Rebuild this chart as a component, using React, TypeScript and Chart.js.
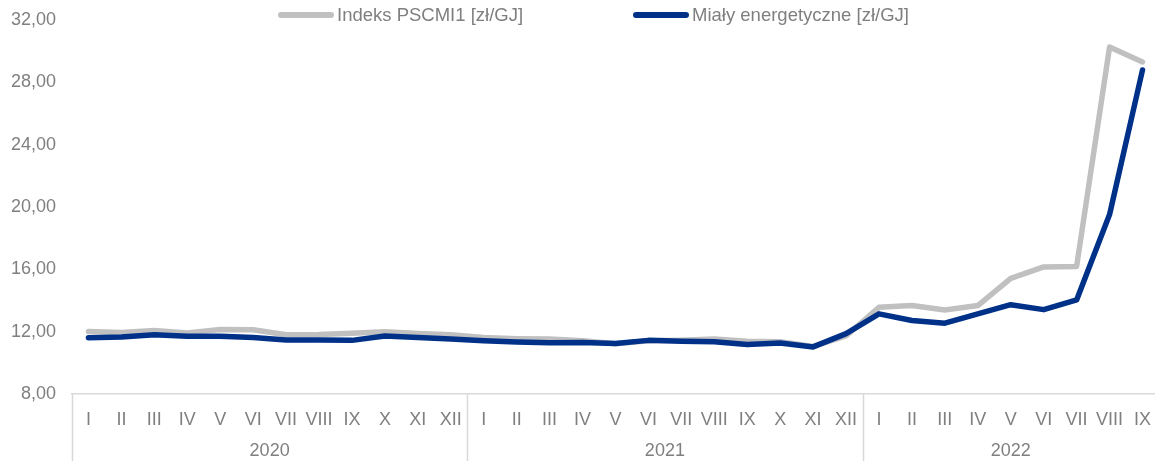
import React, { useEffect, useRef } from "react";
import { Chart, registerables } from "chart.js";

Chart.register(...registerables);

const months: string[] = [
  "I", "II", "III", "IV", "V", "VI", "VII", "VIII", "IX", "X", "XI", "XII",
  "I", "II", "III", "IV", "V", "VI", "VII", "VIII", "IX", "X", "XI", "XII",
  "I", "II", "III", "IV", "V", "VI", "VII", "VIII", "IX",
];

const years: string[] = ["2020", "2021", "2022"];
const yearMonthCounts: number[] = [12, 12, 9];

const pscmi1: number[] = [
  12.01, 11.95, 12.08, 11.92, 12.14, 12.12, 11.8, 11.82, 11.9, 11.99, 11.88, 11.8,
  11.62, 11.55, 11.52, 11.42, 11.22, 11.42, 11.45, 11.52, 11.38, 11.35, 11.05, 11.72,
  13.56, 13.67, 13.39, 13.67, 15.41, 16.15, 16.18, 30.25, 29.3,
];

const mialy: number[] = [
  11.61, 11.66, 11.8, 11.7, 11.7, 11.63, 11.46, 11.46, 11.44, 11.72, 11.62, 11.53,
  11.42, 11.33, 11.28, 11.31, 11.24, 11.44, 11.38, 11.35, 11.18, 11.27, 11.02, 11.87,
  13.14, 12.71, 12.54, 13.14, 13.73, 13.41, 14.03, 19.51, 28.78,
];

const seriesNames: string[] = ["Indeks PSCMI1 [zł/GJ]", "Miały energetyczne [zł/GJ]"];

const GRAY = "#c0c0c0";
const BLUE = "#003189";
const TEXT = "#7f7f7f";
const AXIS = "#d9d9d9";
const FONT = "'Liberation Sans', Arial, sans-serif";

const yearAxisPlugin = {
  id: "yearAxis",
  afterDraw(chart: any) {
    const x = chart.scales.x;
    const ctx = chart.ctx;
    const area = chart.chartArea;
    const half = (x.getPixelForValue(1) - x.getPixelForValue(0)) / 2;
    ctx.save();
    ctx.strokeStyle = AXIS;
    ctx.lineWidth = 1.5;
    let start = 0;
    const bounds: number[] = [0];
    yearMonthCounts.forEach((c) => {
      start += c;
      bounds.push(start);
    });
    bounds.forEach((b) => {
      const px = Math.round(x.getPixelForValue(b) - half) + 0.5;
      ctx.beginPath();
      ctx.moveTo(px, area.bottom);
      ctx.lineTo(px, chart.height);
      ctx.stroke();
    });
    ctx.fillStyle = TEXT;
    ctx.font = `18px ${FONT}`;
    ctx.textAlign = "center";
    ctx.textBaseline = "middle";
    let s = 0;
    years.forEach((yr, i) => {
      const e = s + yearMonthCounts[i] - 1;
      const cx = (x.getPixelForValue(s) + x.getPixelForValue(e)) / 2;
      ctx.fillText(yr, cx, area.bottom + 57);
      s += yearMonthCounts[i];
    });
    ctx.restore();
  },
};

export default function App() {
  const canvasRef = useRef<HTMLCanvasElement | null>(null);

  useEffect(() => {
    if (!canvasRef.current) return;
    const chart = new Chart(canvasRef.current, {
      type: "line",
      data: {
        labels: months,
        datasets: [
          {
            label: seriesNames[0],
            data: pscmi1,
            borderColor: GRAY,
            backgroundColor: GRAY,
            borderWidth: 5.5,
            pointRadius: 0,
            tension: 0,
            borderCapStyle: "round",
            borderJoinStyle: "round",
            order: 1,
          },
          {
            label: seriesNames[1],
            data: mialy,
            borderColor: BLUE,
            backgroundColor: BLUE,
            borderWidth: 5.5,
            pointRadius: 0,
            tension: 0,
            borderCapStyle: "round",
            borderJoinStyle: "round",
            order: 0,
          },
        ],
      },
      options: {
        animation: false,
        responsive: true,
        maintainAspectRatio: false,
        layout: { padding: { top: 0, right: 0, left: 0, bottom: 0 } },
        plugins: {
          legend: { display: false },
          tooltip: { enabled: false },
        },
        scales: {
          x: {
            type: "category",
            offset: true,
            grid: { display: false, drawTicks: false },
            border: { display: true, color: AXIS, width: 1.5 },
            ticks: {
              color: TEXT,
              font: { family: FONT, size: 18 },
              padding: 15,
              autoSkip: false,
              maxRotation: 0,
              minRotation: 0,
            },
            afterFit(scale: any) {
              scale.height = 67;
            },
          },
          y: {
            min: 8,
            max: 32,
            grid: { display: false, drawTicks: false },
            border: { display: false },
            ticks: {
              stepSize: 4,
              color: TEXT,
              font: { family: FONT, size: 18 },
              padding: 16,
              callback: (v: any) => Number(v).toFixed(2).replace(".", ","),
            },
            afterFit(scale: any) {
              scale.width = 72;
            },
          },
        },
      },
      plugins: [yearAxisPlugin],
    } as any);
    return () => chart.destroy();
  }, []);

  const legendItem = (left: number, color: string, text: string) => (
    <div
      style={{
        position: "absolute",
        left,
        top: 4,
        height: 22,
        display: "flex",
        alignItems: "center",
        whiteSpace: "nowrap",
      }}
    >
      <div style={{ width: 56, height: 6, borderRadius: 3, background: color, marginRight: 3 }} />
      <span style={{ fontFamily: FONT, fontSize: 18.5, color: TEXT, lineHeight: "22px" }}>{text}</span>
    </div>
  );

  return (
    <div
      style={{
        position: "fixed",
        left: 0,
        top: 0,
        width: 1155,
        height: 461,
        overflow: "hidden",
        background: "#ffffff",
      }}
    >
      <div style={{ position: "absolute", left: 0, top: -7, width: 1166, height: 468 }}>
        <canvas ref={canvasRef} />
      </div>
      {legendItem(278, GRAY, seriesNames[0])}
      {legendItem(633, BLUE, seriesNames[1])}
    </div>
  );
}
